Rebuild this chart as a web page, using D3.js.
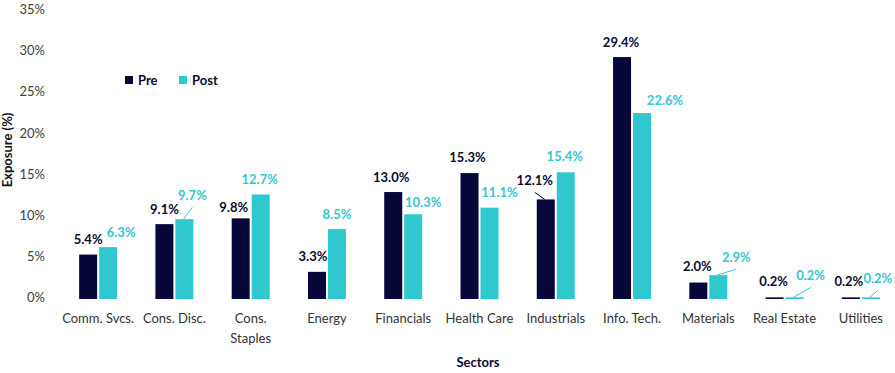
<!DOCTYPE html>
<html lang="en">
<head>
<meta charset="UTF-8" />
<title>Exposure by sector</title>
<script src="https://cdn.jsdelivr.net/npm/d3@7"></script>
<style>
  body { margin: 0; background: #fff; }
  svg text { font-family: Lato, "Noto Sans", sans-serif; }
</style>
</head>
<body>
<div id="chart"></div>
<script>
// data
const sectors = ["Comm. Svcs.", "Cons. Disc.", "Cons. Staples", "Energy", "Financials",
                 "Health Care", "Industrials", "Info. Tech.", "Materials", "Real Estate", "Utilities"];
const series = ["Pre", "Post"];
const preValues  = [5.4, 9.1, 9.8, 3.3, 13.0, 15.3, 12.1, 29.4, 2.0, 0.2, 0.2];
const postValues = [6.3, 9.7, 12.7, 8.5, 10.3, 11.1, 15.4, 22.6, 2.9, 0.2, 0.2];
const yTicks = [0, 5, 10, 15, 20, 25, 30, 35];

// label nudges [dx, dy, leader line?] - layout only
const preNudge = [[0,0,0],[0,0,0],[-7,4,0],[-4,0,0],[-2,0,0],[-2,-1,0],[-11,-4,1],[-1,0,0],[-1,-1,0],[-1,-1,0],[-2,-1,0]];
const postNudge = [[13,0,0],[8,-9,1],[-1,0,0],[0,0,0],[10,3,0],[10,0,0],[-1,-1,0],[23,2,0],[18,-3,1],[16,-7,1],[7,-4,1]];

const width = 895, height = 373;
const colors = { Pre: "#07073a", Post: "#2fc8cf" };
const textColors = { Pre: "#0b0b30", Post: "#36c6cf" };

const svg = d3.select("#chart").append("svg")
  .attr("width", width).attr("height", height);

const x0 = d3.scaleBand().domain(sectors).range([60, 899]);
const x1 = d3.scaleBand().domain(series).range([0, 38]).paddingInner(0.1);
const y = d3.scaleLinear().domain([0, 35]).range([299, 11]);

// y axis
const yAxis = svg.append("g")
  .attr("transform", "translate(50,0)")
  .call(d3.axisLeft(y).tickValues(yTicks).tickSize(0).tickPadding(5).tickFormat(d => d + "%"));
yAxis.select(".domain").remove();
yAxis.selectAll("text")
  .attr("dy", "0.2em")
  .style("font-size", "13px")
  .attr("fill", "#404040");

// x axis
const xAxis = svg.append("g")
  .attr("transform", "translate(0,299)")
  .call(d3.axisBottom(x0).tickSize(0).tickPadding(15));
xAxis.select(".domain").remove();
xAxis.selectAll("text")
  .style("font-size", "13px")
  .attr("fill", "#333")
  .each(function(d) {
    if (d === "Cons. Staples") {
      const t = d3.select(this).text(null);
      t.append("tspan").attr("x", 0).text("Cons.");
      t.append("tspan").attr("x", 0).attr("dy", "20px").text("Staples");
    }
  });

// bars
const groups = svg.append("g").selectAll("g")
  .data(sectors)
  .join("g")
  .attr("transform", d => `translate(${x0(d) + (x0.bandwidth() - 38) / 2},0)`);

const rows = sectors.map((s, i) => [
  { key: "Pre", value: preValues[i], nudge: preNudge[i] },
  { key: "Post", value: postValues[i], nudge: postNudge[i] }
]);

groups.selectAll("rect")
  .data((d, i) => rows[i])
  .join("rect")
  .attr("x", d => x1(d.key))
  .attr("y", d => y(d.value))
  .attr("width", x1.bandwidth())
  .attr("height", d => y(0) - y(d.value))
  .attr("fill", d => colors[d.key]);

// leader lines
groups.selectAll("line")
  .data((d, i) => rows[i].filter(r => r.nudge[2]))
  .join("line")
  .attr("x1", d => x1(d.key) + x1.bandwidth() / 2 - 1)
  .attr("y1", d => y(d.value))
  .attr("x2", d => x1(d.key) + x1.bandwidth() / 2 + d.nudge[0])
  .attr("y2", d => y(d.value) - 15 + d.nudge[1] + 12)
  .attr("stroke", d => colors[d.key])
  .attr("stroke-width", 1);

// value labels
groups.selectAll("text.val")
  .data((d, i) => rows[i])
  .join("text")
  .attr("class", "val")
  .attr("x", d => x1(d.key) + x1.bandwidth() / 2 + d.nudge[0])
  .attr("y", d => y(d.value) - 15 + d.nudge[1])
  .attr("dy", "0.35em")
  .attr("text-anchor", "middle")
  .style("font-size", "13px")
  .style("font-weight", "bold")
  .attr("fill", d => textColors[d.key])
  .text(d => d.value.toFixed(1) + "%");

// legend
const legend = svg.append("g").attr("transform", "translate(125,76)");
const li = legend.selectAll("g").data(series).join("g")
  .attr("transform", (d, i) => `translate(${i * 54},0)`);
li.append("rect").attr("width", 8).attr("height", 8).attr("fill", d => colors[d]);
li.append("text").attr("x", 13).attr("y", 4).attr("dy", "0.35em")
  .style("font-size", "13px").style("font-weight", "bold")
  .attr("fill", "#0b0b30").text(d => d);

// axis titles
svg.append("text")
  .attr("transform", "translate(12,150) rotate(-90)")
  .attr("text-anchor", "middle")
  .style("font-size", "13px").style("font-weight", "bold")
  .attr("fill", "#111")
  .text("Exposure (%)");

svg.append("text")
  .attr("x", 478).attr("y", 362).attr("dy", "0.35em")
  .attr("text-anchor", "middle")
  .style("font-size", "13px").style("font-weight", "bold")
  .attr("fill", "#0b0b30")
  .text("Sectors");
</script>
</body>
</html>
